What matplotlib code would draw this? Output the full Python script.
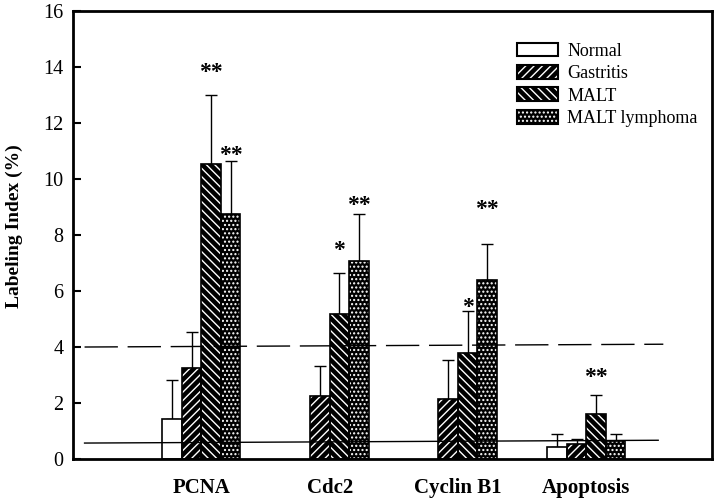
import numpy as np
import matplotlib
matplotlib.use("Agg")
from matplotlib import pyplot as plt
from matplotlib.patches import Patch
from matplotlib.legend_handler import HandlerTuple

plt.rcParams['font.family'] = ['Liberation Serif', 'DejaVu Serif']
plt.rcParams['hatch.linewidth'] = 1.0

markers = ['PCNA', 'Cdc2', 'Cyclin B1', 'Apoptosis']
groups = ['Normal', 'Gastritis', 'MALT', 'MALT lymphoma']

normal = [1.42, 0.0, 0.0, 0.43]
gastritis = [3.24, 2.26, 2.13, 0.55]
malt = [10.54, 5.17, 3.79, 1.61]
lymphoma = [8.75, 7.07, 6.40, 0.65]

normal_err = [1.40, 0.0, 0.0, 0.46]
gastritis_err = [1.28, 1.07, 1.39, 0.18]
malt_err = [2.47, 1.48, 1.48, 0.69]
lymphoma_err = [1.89, 1.69, 1.28, 0.24]

# significance marks: (marker index, group index, label, y)
stars = [(0, 2, '**', 13.8), (0, 3, '**', 10.85),
         (1, 2, '*', 7.45), (1, 3, '**', 9.05),
         (2, 2, '*', 5.4), (2, 3, '**', 8.9),
         (3, 2, '**', 2.9)]

# reference lines (hand drawn, slightly tilted)
dash_x = [0.09, 4.6]
dash_y = [4.0, 4.1]
solid_x = [0.09, 4.56]
solid_y = [0.57, 0.67]

values = [normal, gastritis, malt, lymphoma]
errors = [normal_err, gastritis_err, malt_err, lymphoma_err]
hatches = ['', '////', '\\\\\\\\', '....']
faces = ['white', 'black', 'black', 'black']

fig, ax = plt.subplots(figsize=(7.2, 5.01), dpi=100)
fig.subplots_adjust(left=0.1014, right=0.989, bottom=0.0838, top=0.978)

x = np.arange(1, len(markers) + 1)
w = 0.152
handles = []
for i, g in enumerate(groups):
    pos = x + (i - 1.5) * w
    h = np.array(values[i])
    keep = h > 0
    ax.bar(pos[keep], h[keep], w, color=faces[i], edgecolor='white',
           hatch=hatches[i], linewidth=0, zorder=2)
    ax.bar(pos[keep], h[keep], w, facecolor='none', edgecolor='black',
           linewidth=1.2, zorder=3)
    err = np.array(errors[i])
    ax.errorbar(pos[keep], h[keep], yerr=[np.zeros(keep.sum()), err[keep]],
                fmt='none', ecolor='black', elinewidth=1.0, capsize=4.3,
                capthick=1.0, zorder=1)
    handles.append((Patch(facecolor=faces[i], edgecolor='white', hatch=hatches[i], linewidth=0),
                    Patch(facecolor='none', edgecolor='black', linewidth=1.5)))

for m, gi, s, yy in stars:
    ax.text(x[m] + (gi - 1.5) * w, yy, s, ha='center', va='center',
            fontsize=17, fontweight='bold')

ax.plot(dash_x, dash_y, color='black', linewidth=1.0, dashes=(24, 7), zorder=4)
ax.plot(solid_x, solid_y, color='black', linewidth=1.0, zorder=4)

ax.set_xlim(0, 4.98)
ax.set_ylim(0, 16)
ax.set_yticks(np.arange(0, 17, 2))
ax.set_xticks(x)
ax.set_xticklabels(markers, fontsize=15, fontweight='bold')
ax.tick_params(axis='x', length=0, pad=14)
ax.tick_params(axis='y', direction='in', length=6, width=1.5, labelsize=14.5, pad=7)
for sp in ax.spines.values():
    sp.set_linewidth(2.0)

ax.set_ylabel('Labeling Index (%)', fontsize=14, fontweight='bold')
ax.yaxis.set_label_coords(-0.078, 0.52)

ax.legend(handles, groups, handler_map={tuple: HandlerTuple(ndivide=1, pad=0)},
          loc='upper right', bbox_to_anchor=(1.003, 0.966), frameon=False,
          fontsize=13, handlelength=2.3, handleheight=0.78, labelspacing=0.3,
          handletextpad=0.5)

plt.savefig('out.png', dpi=100)
plt.close()
